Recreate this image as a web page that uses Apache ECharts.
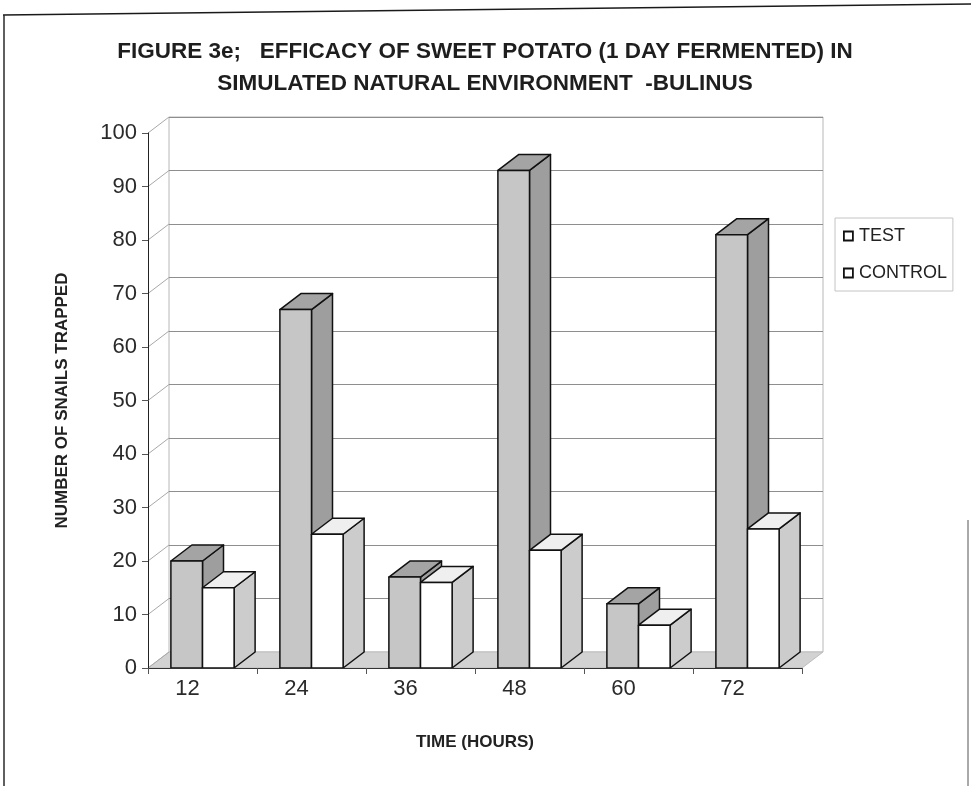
<!DOCTYPE html>
<html>
<head>
<meta charset="utf-8">
<script src="https://cdn.jsdelivr.net/npm/echarts@6/dist/echarts.min.js"></script>
<style>
  html, body { margin: 0; padding: 0; background: #ffffff; }
  #chart { width: 971px; height: 786px; }
</style>
</head>
<body>
<div id="chart"></div>
<script>
// Snails trapped per sampling time
const categories = ['12', '24', '36', '48', '60', '72'];
const testValues = [20, 67, 17, 93, 12, 81];
const controlValues = [15, 25, 16, 22, 8, 26];
const yTickValues = [0, 10, 20, 30, 40, 50, 60, 70, 80, 90, 100];
const seriesNames = ['TEST', 'CONTROL'];
const titleLines = [
  'FIGURE 3e;   EFFICACY OF SWEET POTATO (1 DAY FERMENTED) IN',
  'SIMULATED NATURAL ENVIRONMENT  -BULINUS'
];
const yAxisTitle = 'NUMBER OF SNAILS TRAPPED';
const xAxisTitle = 'TIME (HOURS)';

// depth offset of the pseudo 3-D box and columns
const DX = 21, DY = -16;
const BAR_FRAC = 0.29;
const FONT = '"Liberation Sans", Arial, sans-serif';

// floor and left side wall of the box
function renderWalls(params, api) {
  const cw = api.size([1, 0])[0];
  const x0 = api.coord([0, 0])[0] - cw / 2;
  const x1 = api.coord([categories.length - 1, 0])[0] + cw / 2;
  const y0 = api.coord([0, 0])[1];
  const children = [{
    type: 'polygon',
    shape: { points: [[x0, y0], [x1, y0], [x1 + DX, y0 + DY], [x0 + DX, y0 + DY]] },
    style: { fill: '#d2d2d2', stroke: '#bdbdbd', lineWidth: 1 }
  }];
  yTickValues.forEach(function (v) {
    const y = api.coord([0, v])[1];
    children.push({
      type: 'line',
      shape: { x1: x0, y1: y, x2: x0 + DX, y2: y + DY },
      style: { stroke: '#a8a8a8', lineWidth: 1 }
    });
  });
  return { type: 'group', children: children };
}

// one 3-D column: front face, top face and right side face
function columnRenderer(shift, colors) {
  return function (params, api) {
    const idx = api.value(0);
    const top = api.coord([idx, api.value(1)]);
    const base = api.coord([idx, 0]);
    const cw = api.size([1, 0])[0];
    const w = cw * BAR_FRAC;
    const x = top[0] + shift * w;
    const yt = top[1], yb = base[1];
    const edge = { stroke: '#111111', lineWidth: 1.5, lineJoin: 'round' };
    return {
      type: 'group',
      children: [
        {
          type: 'polygon',
          shape: { points: [[x + w, yt], [x + w + DX, yt + DY], [x + w + DX, yb + DY], [x + w, yb]] },
          style: Object.assign({ fill: colors.side }, edge)
        },
        {
          type: 'polygon',
          shape: { points: [[x, yt], [x + w, yt], [x + w + DX, yt + DY], [x + DX, yt + DY]] },
          style: Object.assign({ fill: colors.top }, edge)
        },
        {
          type: 'rect',
          shape: { x: x, y: yt, width: w, height: yb - yt },
          style: Object.assign({ fill: colors.front }, edge)
        }
      ]
    };
  };
}

const chart = echarts.init(document.getElementById('chart'), null, { renderer: 'canvas' });

const option = {
  backgroundColor: '#ffffff',
  animation: false,
  title: {
    text: titleLines.join('\n'),
    left: 485,
    top: 36,
    textAlign: 'center',
    padding: 0,
    textStyle: {
      fontFamily: FONT, fontSize: 22.5, fontWeight: 'bold', color: '#1e1e1e', lineHeight: 32
    }
  },
  legend: {
    orient: 'vertical',
    left: 835,
    top: 218,
    padding: [9, 6, 9, 8],
    itemGap: 19,
    itemWidth: 9,
    itemHeight: 9,
    icon: 'rect',
    borderColor: '#c4c4c4',
    borderWidth: 1,
    textStyle: { fontFamily: FONT, fontSize: 18, color: '#222222', padding: [0, 0, 0, 1] },
    data: seriesNames.map(function (n) {
      return { name: n, itemStyle: { color: '#ffffff', borderColor: '#111111', borderWidth: 1.8 } };
    })
  },
  grid: [
    { left: 148, top: 133, width: 654, height: 535, containLabel: false },
    {
      left: 148 + DX, top: 133 + DY, width: 654, height: 535,
      show: true, borderColor: '#b8b8b8', borderWidth: 1, backgroundColor: '#ffffff'
    }
  ],
  xAxis: [
    {
      gridIndex: 0,
      type: 'category',
      data: categories,
      boundaryGap: true,
      z: 10,
      name: xAxisTitle,
      nameLocation: 'middle',
      nameGap: 66,
      nameTextStyle: { fontFamily: FONT, fontSize: 17, fontWeight: 'bold', color: '#222222' },
      axisLine: { show: true, lineStyle: { color: '#333333', width: 1 } },
      axisTick: { show: true, alignWithLabel: false, length: 6, lineStyle: { color: '#555555' } },
      axisLabel: {
        fontFamily: FONT, fontSize: 22, color: '#2a2a2a', margin: 10,
        padding: [0, 30, 0, 0]
      },
      splitLine: { show: false }
    },
    {
      gridIndex: 1,
      type: 'category',
      data: categories,
      show: false
    }
  ],
  yAxis: [
    {
      gridIndex: 0,
      type: 'value',
      min: 0, max: 100, interval: 10,
      z: 10,
      name: yAxisTitle,
      nameLocation: 'middle',
      nameRotate: 90,
      nameGap: 77,
      nameTextStyle: { fontFamily: FONT, fontSize: 17, fontWeight: 'bold', color: '#222222' },
      axisLine: { show: true, lineStyle: { color: '#222222', width: 1 } },
      axisTick: { show: true, length: 6, lineStyle: { color: '#555555' } },
      axisLabel: { fontFamily: FONT, fontSize: 22, color: '#2a2a2a', margin: 11 },
      splitLine: { show: false }
    },
    {
      gridIndex: 1,
      type: 'value',
      min: 0, max: 100, interval: 10,
      axisLine: { show: false },
      axisTick: { show: false },
      axisLabel: { show: false },
      splitLine: { show: true, lineStyle: { color: '#8e8e8e', width: 1 } }
    }
  ],
  series: [
    {
      type: 'custom',
      name: 'walls',
      xAxisIndex: 0, yAxisIndex: 0,
      z: 1,
      silent: true,
      renderItem: renderWalls,
      data: [[0, 0]]
    },
    {
      type: 'custom',
      name: seriesNames[0],
      xAxisIndex: 0, yAxisIndex: 0,
      z: 3,
      itemStyle: { color: '#c2c2c2' },
      renderItem: columnRenderer(-1, { front: '#c6c6c6', top: '#a4a4a4', side: '#9e9e9e' }),
      data: testValues.map(function (v, i) { return [i, v]; })
    },
    {
      type: 'custom',
      name: seriesNames[1],
      xAxisIndex: 0, yAxisIndex: 0,
      z: 4,
      itemStyle: { color: '#ffffff' },
      renderItem: columnRenderer(0, { front: '#ffffff', top: '#efefef', side: '#cccccc' }),
      data: controlValues.map(function (v, i) { return [i, v]; })
    }
  ],
  graphic: [
    { type: 'line', shape: { x1: 3, y1: 15, x2: 971, y2: 4 }, style: { stroke: '#1a1a1a', lineWidth: 1.5 }, z: 100 },
    { type: 'line', shape: { x1: 4, y1: 15, x2: 4, y2: 786 }, style: { stroke: '#2a2a2a', lineWidth: 1.5 }, z: 100 },
    { type: 'line', shape: { x1: 968, y1: 520, x2: 968, y2: 786 }, style: { stroke: '#555555', lineWidth: 1 }, z: 100 }
  ]
};

chart.setOption(option);
</script>
</body>
</html>
